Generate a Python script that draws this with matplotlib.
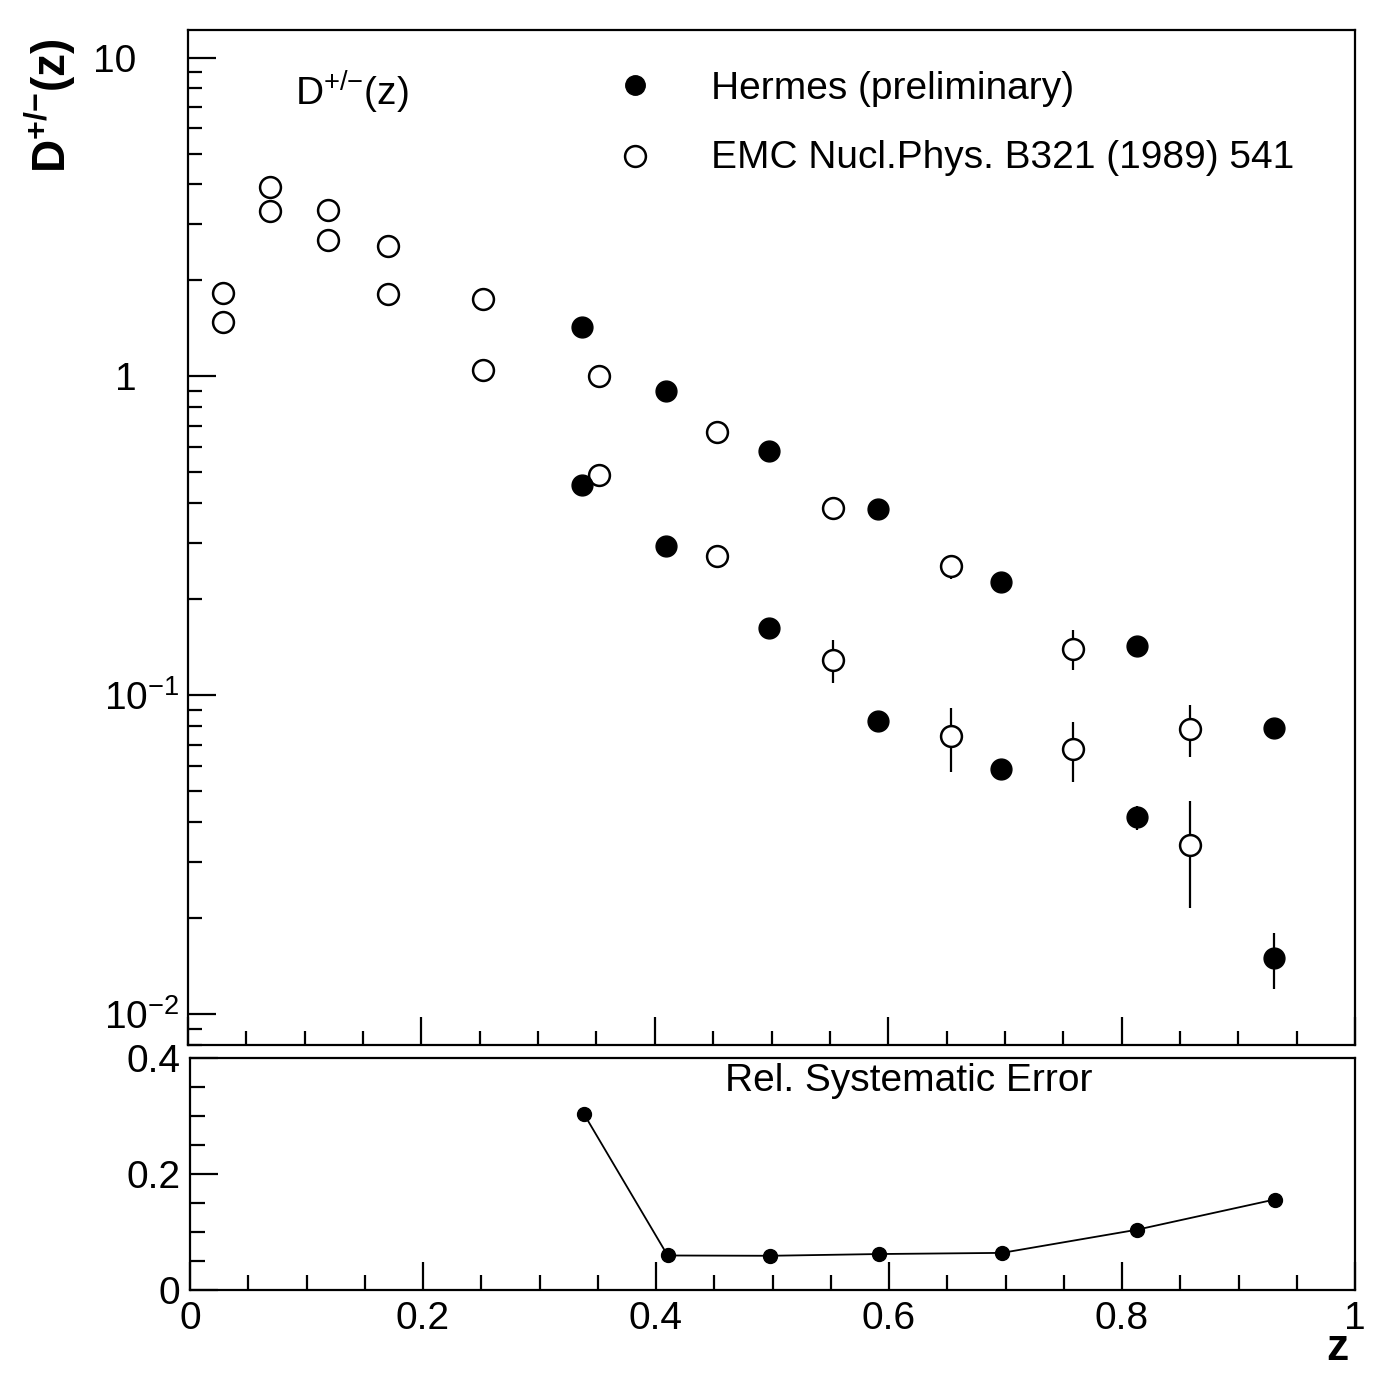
import matplotlib
matplotlib.use("Agg")
import matplotlib.pyplot as plt
from matplotlib.ticker import MultipleLocator, LogLocator, NullFormatter, FixedLocator, FixedFormatter

plt.rcParams['font.family'] = ['Liberation Sans', 'DejaVu Sans']
plt.rcParams['mathtext.fontset'] = 'custom'
plt.rcParams['mathtext.rm'] = 'Liberation Sans'
plt.rcParams['mathtext.it'] = 'Liberation Sans:italic'
plt.rcParams['mathtext.bf'] = 'Liberation Sans:bold'
plt.rcParams['font.size'] = 28

# ---------------- data ----------------
z_hermes = [0.338, 0.410, 0.498, 0.591, 0.697, 0.813, 0.931]
d_plus_hermes = [1.43, 0.90, 0.585, 0.384, 0.226, 0.143, 0.079]
d_plus_hermes_err = [0.0, 0.0, 0.0, 0.0, 0.0, 0.0, 0.0]
d_minus_hermes = [0.458, 0.293, 0.162, 0.083, 0.0585, 0.0414, 0.0150]
d_minus_hermes_err = [0.0, 0.0, 0.0, 0.0, 0.003, 0.0035, 0.003]

z_emc = [0.030, 0.070, 0.120, 0.171, 0.253, 0.352, 0.453, 0.553, 0.654, 0.758, 0.859]
d_plus_emc = [1.83, 3.93, 3.32, 2.57, 1.75, 1.00, 0.67, 0.387, 0.254, 0.140, 0.0786]
d_plus_emc_err = [0.0, 0.0, 0.0, 0.0, 0.0, 0.0, 0.04, 0.02, 0.022, 0.02, 0.0145]
d_minus_emc = [1.48, 3.30, 2.67, 1.81, 1.05, 0.49, 0.274, 0.129, 0.0745, 0.0678, 0.034]
d_minus_emc_err = [0.0, 0.0, 0.0, 0.0, 0.0, 0.03, 0.022, 0.02, 0.017, 0.0145, 0.0125]

rel_sys_err = [0.304, 0.0595, 0.059, 0.062, 0.064, 0.104, 0.156]

top_ytick_values = [0.01, 0.1, 1, 10]
top_ytick_labels = [r'$\mathregular{10^{-2}}$', r'$\mathregular{10^{-1}}$', '1    ', '10    ']
bot_ytick_values = [0, 0.2, 0.4]
bot_ytick_labels = ['0', '0.2', '0.4']
xtick_values = [0, 0.2, 0.4, 0.6, 0.8, 1.0]
xtick_labels = ['0', '0.2', '0.4', '0.6', '0.8', '1']

legend_labels = ['Hermes (preliminary)', 'EMC Nucl.Phys. B321 (1989) 541']

# ---------------- figure ----------------
W, H = 1376, 1373
fig = plt.figure(figsize=(W / 100, H / 100), dpi=100)
fig.patch.set_facecolor('white')

ax1 = fig.add_axes([188 / W, 1 - 1045 / H, 1167 / W, 1015 / H])
ax2 = fig.add_axes([190 / W, 1 - 1290 / H, 1165 / W, 232 / H])

ms_fill = 15
ms_open = 15
ebkw = dict(ls='none', ecolor='black', elinewidth=1.6, capsize=0)

# EMC open circles
for vals, errs in [(d_plus_emc, d_plus_emc_err), (d_minus_emc, d_minus_emc_err)]:
    ax1.errorbar(z_emc, vals, yerr=errs, marker='o', ms=ms_open, mfc='white',
                 mec='black', mew=1.8, zorder=3, **ebkw)
# Hermes filled circles
for vals, errs in [(d_plus_hermes, d_plus_hermes_err), (d_minus_hermes, d_minus_hermes_err)]:
    ax1.errorbar(z_hermes, vals, yerr=errs, marker='o', ms=ms_fill, mfc='black',
                 mec='black', mew=1.0, zorder=4, **ebkw)

ax1.set_yscale('log')
ax1.set_xlim(0, 1)
ax1.set_ylim(0.0080, 12.2)
ax1.yaxis.set_major_locator(FixedLocator(top_ytick_values))
ax1.yaxis.set_major_formatter(FixedFormatter(top_ytick_labels))
ax1.yaxis.set_minor_locator(LogLocator(base=10, subs=range(2, 10)))
ax1.yaxis.set_minor_formatter(NullFormatter())
ax1.xaxis.set_major_locator(MultipleLocator(0.2))
ax1.xaxis.set_minor_locator(MultipleLocator(0.05))
ax1.tick_params(axis='both', which='both', direction='in', top=False, right=False,
                labelbottom=False, width=1.6)
ax1.tick_params(axis='both', which='major', length=20)
ax1.tick_params(axis='both', which='minor', length=10)
ax1.tick_params(axis='y', which='major', pad=6, labelsize=28)

# bottom panel
ax2.plot(z_hermes, rel_sys_err, '-', color='black', lw=1.3, marker='o', ms=10,
         mfc='black', mec='black')
ax2.set_xlim(0, 1)
ax2.set_ylim(0, 0.4)
ax2.yaxis.set_major_locator(FixedLocator(bot_ytick_values))
ax2.yaxis.set_major_formatter(FixedFormatter(bot_ytick_labels))
ax2.yaxis.set_minor_locator(MultipleLocator(0.05))
ax2.xaxis.set_major_locator(FixedLocator(xtick_values))
ax2.xaxis.set_major_formatter(FixedFormatter(xtick_labels))
ax2.xaxis.set_minor_locator(MultipleLocator(0.05))
ax2.tick_params(axis='both', which='both', direction='in', top=False, right=False, width=1.6)
ax2.tick_params(axis='both', which='major', length=20)
ax2.tick_params(axis='both', which='minor', length=11)
ax2.tick_params(axis='y', which='major', pad=7, labelsize=28)
ax2.tick_params(axis='x', which='major', pad=8, labelsize=28)

for ax in (ax1, ax2):
    for sp in ax.spines.values():
        sp.set_linewidth(1.6)

# labels
ax1.set_ylabel(r'$\mathbf{D^{{+}/{-}}(z)}$', fontsize=33)
ax1.yaxis.set_label_coords(-0.094, 0.925)
ax2.set_xlabel('z', fontsize=32, fontweight='bold')
ax2.xaxis.label.set_verticalalignment('baseline')
ax2.xaxis.set_label_coords(0.985, -0.30)

ax1.text(0.092, 0.938, r'$\mathregular{D^{{+}/{-}}(z)}$', transform=ax1.transAxes,
         fontsize=28, ha='left', va='center')

# legend
ax1.plot([0.383], [0.946], marker='o', ms=14, mfc='black', mec='black',
         transform=ax1.transAxes, clip_on=False)
ax1.plot([0.383], [0.876], marker='o', ms=ms_open, mfc='white', mec='black', mew=1.8,
         transform=ax1.transAxes, clip_on=False)
ax1.text(0.448, 0.942, legend_labels[0], transform=ax1.transAxes, ha='left', va='center', fontsize=28)
ax1.text(0.448, 0.874, legend_labels[1], transform=ax1.transAxes, ha='left', va='center', fontsize=28)

ax2.text(0.459, 0.90, 'Rel. Systematic Error', transform=ax2.transAxes,
         ha='left', va='center', fontsize=28)

fig.savefig('out.png', dpi=100, facecolor='white')
